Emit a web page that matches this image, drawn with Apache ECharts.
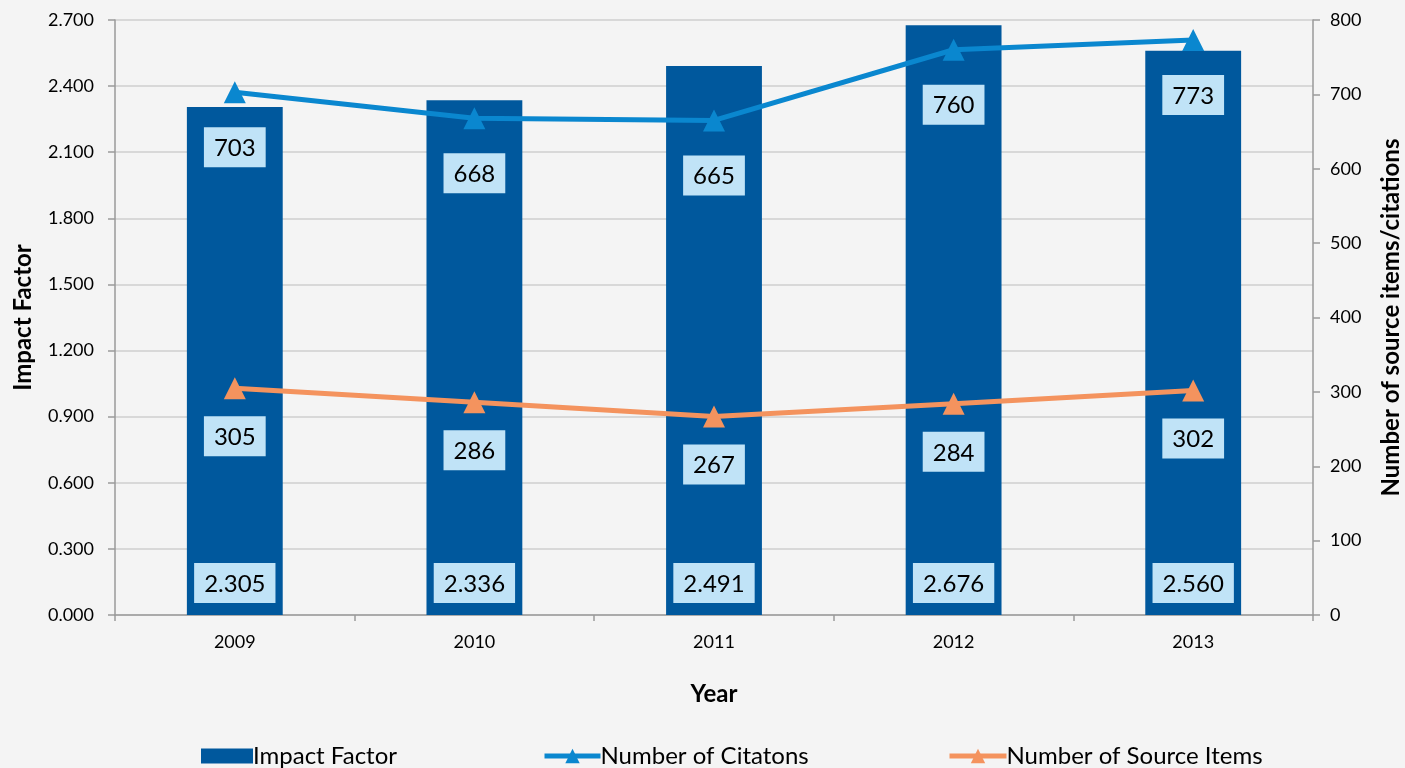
<!DOCTYPE html>
<html>
<head>
<meta charset="utf-8">
<script src="https://cdn.jsdelivr.net/npm/echarts@6/dist/echarts.min.js"></script>
<style>
  html, body { margin: 0; padding: 0; background: #f4f4f4; }
  #chart { width: 1405px; height: 768px; }
</style>
</head>
<body>
<div id="chart"></div>
<script>
const years = ['2009', '2010', '2011', '2012', '2013'];
const impactFactor = [2.305, 2.336, 2.491, 2.676, 2.560];
const citations = [703, 668, 665, 760, 773];
const sourceItems = [305, 286, 267, 284, 302];

const FONT = 'Lato';
const boxLabel = {
    show: true,
    color: '#000',
    fontFamily: FONT,
    fontSize: 24,
    lineHeight: 24,
    backgroundColor: '#c0e3f7',
    padding: [9, 10, 7, 10]
};
const legendText = { fontSize: 24, color: '#000', fontFamily: FONT, padding: [0, 0, 0, -5] };

const chart = echarts.init(document.getElementById('chart'));

chart.setOption({
    backgroundColor: '#f4f4f4',
    textStyle: { fontFamily: FONT },
    grid: { left: 115, right: 92, top: 20, bottom: 153, outerBoundsMode: 'none' },
    legend: [
        { data: [{ name: 'Impact Factor', icon: 'rect' }], left: 196, top: 739, itemWidth: 52, itemHeight: 15, textStyle: legendText },
        { data: ['Number of Citatons'], left: 537, top: 739, itemWidth: 56, itemHeight: 18, textStyle: legendText, lineStyle: { width: 5 } },
        { data: ['Number of Source Items'], left: 942, top: 739, itemWidth: 57, itemHeight: 18, textStyle: legendText, lineStyle: { width: 5 } }
    ],
    xAxis: {
        type: 'category',
        data: years,
        name: 'Year',
        nameLocation: 'middle',
        nameGap: 67,
        nameTextStyle: { fontSize: 24, fontWeight: 'bold', color: '#000' },
        axisLine: { lineStyle: { color: '#9a9a9a', width: 1.5 } },
        axisTick: { show: true, length: 6, lineStyle: { color: '#9a9a9a', width: 1.5 } },
        axisLabel: { fontSize: 18, color: '#000', margin: 18 }
    },
    yAxis: [{
        type: 'value',
        min: 0,
        max: 2.7,
        interval: 0.3,
        name: 'Impact Factor',
        nameLocation: 'middle',
        nameGap: 80,
        nameRotate: 90,
        nameTextStyle: { fontSize: 24, fontWeight: 'bold', color: '#000' },
        axisLine: { show: true, lineStyle: { color: '#9a9a9a', width: 1.5 } },
        axisTick: { show: true, length: 7, lineStyle: { color: '#9a9a9a', width: 1.5 } },
        axisLabel: { fontSize: 18, color: '#000', margin: 21, formatter: v => v.toFixed(3) },
        splitLine: { lineStyle: { color: '#cfcfcf', width: 1.5 } }
    }, {
        type: 'value',
        min: 0,
        max: 800,
        interval: 100,
        name: 'Number of source items/citations',
        nameLocation: 'middle',
        nameGap: 66,
        nameRotate: 90,
        nameTextStyle: { fontSize: 24, fontWeight: 'bold', color: '#000' },
        axisLine: { show: true, lineStyle: { color: '#9a9a9a', width: 1.5 } },
        axisTick: { show: true, length: 7, lineStyle: { color: '#9a9a9a', width: 1.5 } },
        axisLabel: { fontSize: 18, color: '#000', margin: 17 },
        splitLine: { show: false }
    }],
    series: [{
        name: 'Impact Factor',
        type: 'bar',
        data: impactFactor,
        barWidth: '40%',
        itemStyle: { color: '#00589d' },
        label: Object.assign({}, boxLabel, {
            position: 'insideBottom',
            distance: 12,
            formatter: p => p.value.toFixed(3)
        })
    }, {
        name: 'Number of Citatons',
        type: 'line',
        yAxisIndex: 1,
        data: citations,
        symbol: 'triangle',
        symbolSize: 22,
        lineStyle: { color: '#0a87cf', width: 5 },
        itemStyle: { color: '#0a87cf' },
        label: Object.assign({}, boxLabel, { position: 'bottom', distance: 24 }),
        z: 3
    }, {
        name: 'Number of Source Items',
        type: 'line',
        yAxisIndex: 1,
        data: sourceItems,
        symbol: 'triangle',
        symbolSize: 22,
        lineStyle: { color: '#f4935e', width: 5 },
        itemStyle: { color: '#f4935e' },
        label: Object.assign({}, boxLabel, { position: 'bottom', distance: 17 }),
        z: 3
    }]
});
</script>
</body>
</html>
